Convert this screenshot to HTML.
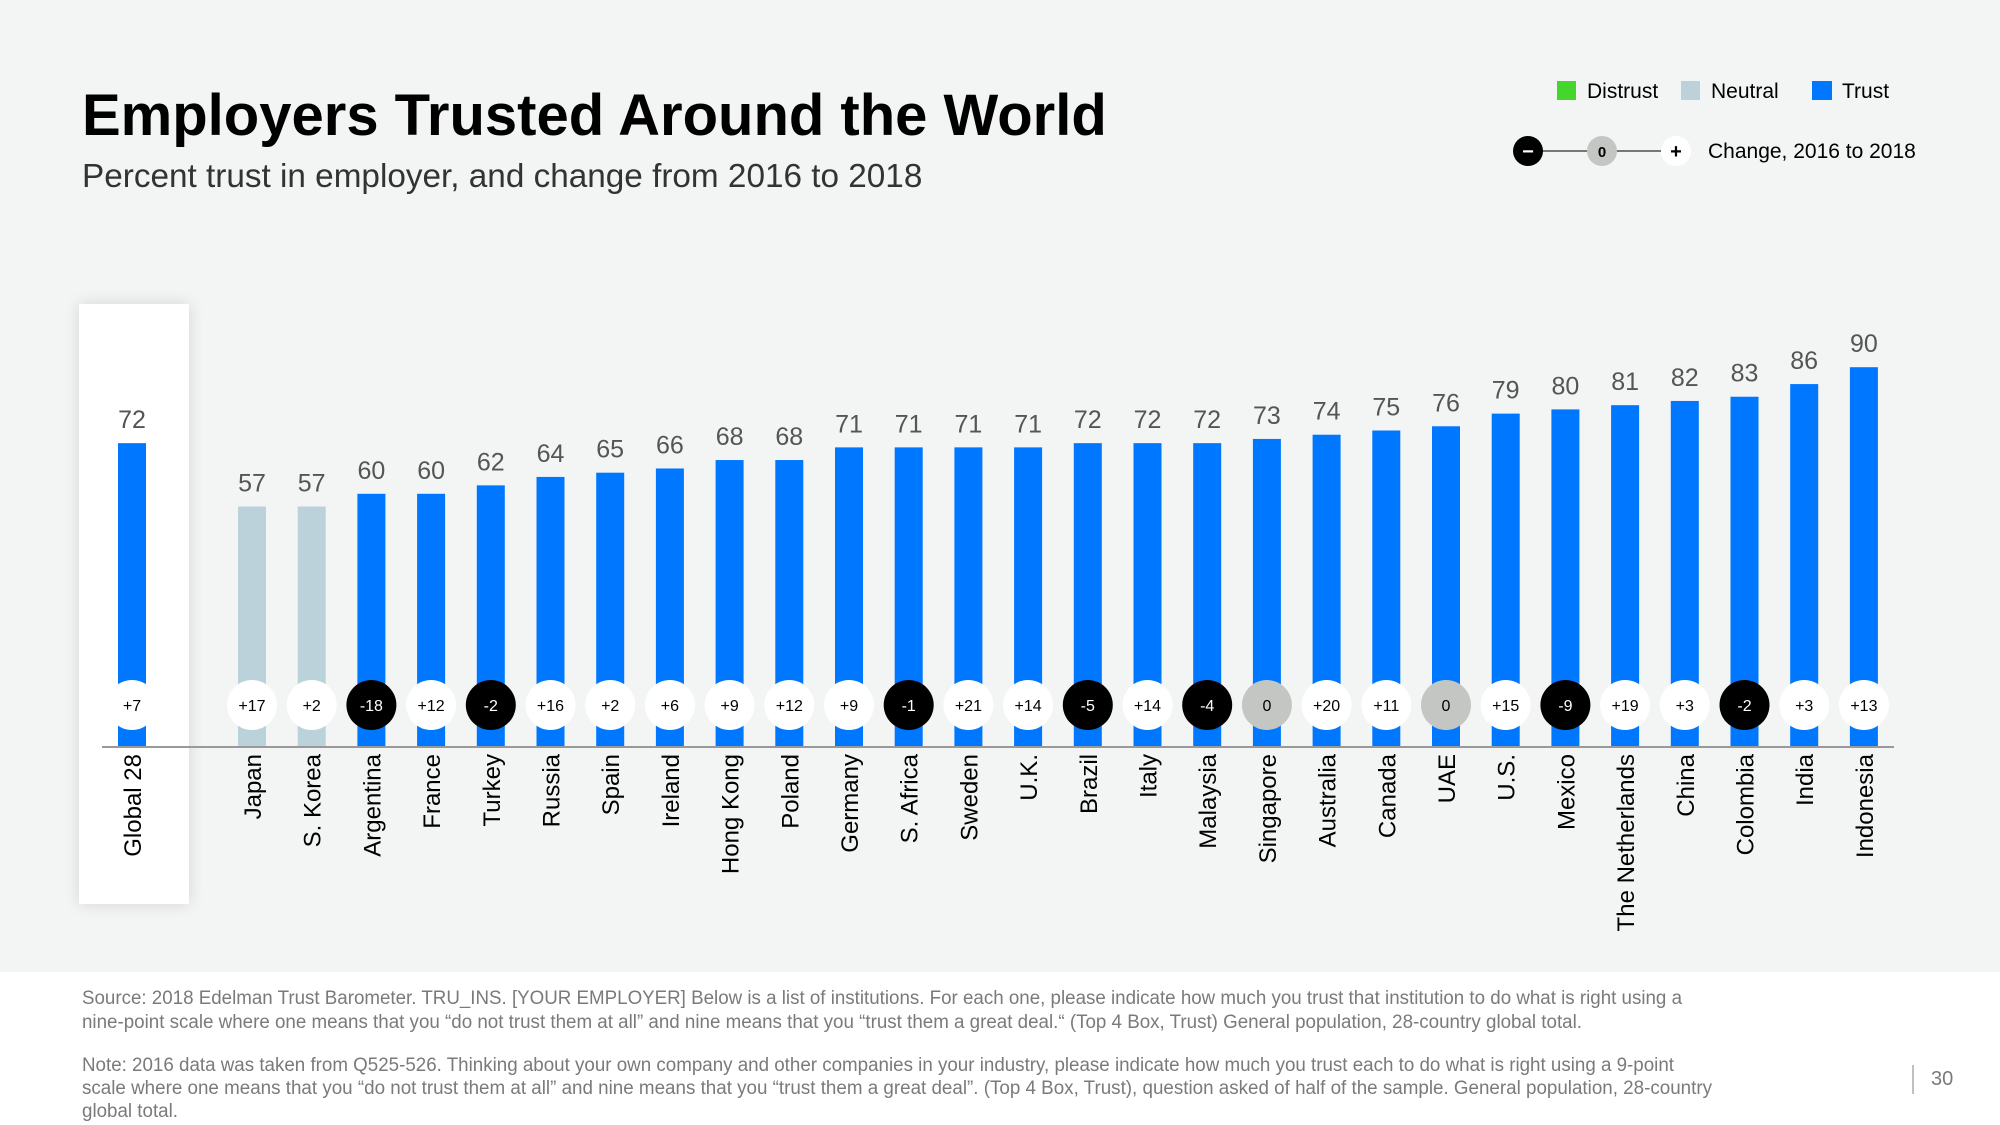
<!DOCTYPE html>
<html><head><meta charset="utf-8"><style>
html,body{margin:0;padding:0;background:#f3f4f4;}
svg{display:block;font-family:"Liberation Sans",sans-serif;}
</style></head><body>
<svg id="chart" width="2000" height="1125" viewBox="0 0 2000 1125" xmlns="http://www.w3.org/2000/svg">
<defs><filter id="sh" x="-30%" y="-10%" width="160%" height="120%"><feGaussianBlur stdDeviation="8"/></filter></defs>
<rect x="0" y="0" width="2000" height="1125" fill="#f3f4f4"/>
<text x="82" y="135" font-size="58" font-weight="bold" fill="#000">Employers Trusted Around the World</text>
<text x="82" y="187" font-size="33.3" fill="#333">Percent trust in employer, and change from 2016 to 2018</text>
<g>
<rect x="1557" y="81" width="19" height="19" fill="#44d62c"/>
<text x="1587" y="98" font-size="21" fill="#000">Distrust</text>
<rect x="1681" y="81" width="19" height="19" fill="#bcd2da"/>
<text x="1711" y="98" font-size="21" fill="#000">Neutral</text>
<rect x="1812" y="81" width="20" height="19" fill="#0077ff"/>
<text x="1842" y="98" font-size="21" fill="#000">Trust</text>
<line x1="1528" y1="151" x2="1676" y2="151" stroke="#777" stroke-width="2"/>
<circle cx="1528" cy="151" r="15" fill="#000"/>
<text x="1528" y="158" font-size="20" fill="#fff" text-anchor="middle" font-weight="bold">−</text>
<circle cx="1602" cy="151" r="15" fill="#c4c6c4"/>
<text x="1602" y="157" font-size="15" font-weight="bold" text-anchor="middle">0</text>
<circle cx="1676" cy="151" r="15" fill="#fff"/>
<text x="1676" y="158" font-size="20" font-weight="bold" text-anchor="middle">+</text>
<text x="1708" y="158" font-size="21" fill="#000">Change, 2016 to 2018</text>
</g>
<rect x="79" y="304" width="110" height="600" fill="#000" opacity="0.12" filter="url(#sh)"/>
<rect x="79" y="304" width="110" height="600" fill="#fff"/>
<g id="plot"></g>
<rect x="0" y="972" width="2000" height="153" fill="#fff"/>
<g font-size="19" fill="#7a7a7a">
<text x="82" y="1004" textLength="1600" lengthAdjust="spacingAndGlyphs">Source: 2018 Edelman Trust Barometer. TRU_INS. [YOUR EMPLOYER] Below is a list of institutions. For each one, please indicate how much you trust that institution to do what is right using a</text>
<text x="82" y="1028" textLength="1500" lengthAdjust="spacingAndGlyphs">nine-point scale where one means that you “do not trust them at all” and nine means that you “trust them a great deal.“ (Top 4 Box, Trust) General population, 28-country global total.</text>
<text x="82" y="1071" textLength="1592" lengthAdjust="spacingAndGlyphs">Note: 2016 data was taken from Q525-526. Thinking about your own company and other companies in your industry, please indicate how much you trust each to do what is right using a 9-point</text>
<text x="82" y="1094" textLength="1630" lengthAdjust="spacingAndGlyphs">scale where one means that you “do not trust them at all” and nine means that you “trust them a great deal”. (Top 4 Box, Trust), question asked of half of the sample. General population, 28-country</text>
<text x="82" y="1117" textLength="96" lengthAdjust="spacingAndGlyphs">global total.</text>
</g>
<line x1="1913" y1="1065" x2="1913" y2="1094" stroke="#aaa" stroke-width="1.5"/>
<text x="1931" y="1085" font-size="20" fill="#7a7a7a">30</text>
</svg>
<script>
const categories=["Global 28","Japan","S. Korea","Argentina","France","Turkey","Russia","Spain","Ireland","Hong Kong","Poland","Germany","S. Africa","Sweden","U.K.","Brazil","Italy","Malaysia","Singapore","Australia","Canada","UAE","U.S.","Mexico","The Netherlands","China","Colombia","India","Indonesia"];
const trustValues=[72,57,57,60,60,62,64,65,66,68,68,71,71,71,71,72,72,72,73,74,75,76,79,80,81,82,83,86,90];
const changeValues=[7,17,2,-18,12,-2,16,2,6,9,12,9,-1,21,14,-5,14,-4,0,20,11,0,15,-9,19,3,-2,3,13];
const neutralCategories=["Japan","S. Korea"];

const NS="http://www.w3.org/2000/svg";
const plot=document.getElementById('plot');
const axisY=747, unit=4.22, barW=28, circleY=705;
function xPos(i){return i===0?132:252+(i-1)*59.7;}
function yPos(v){return axisY-v*unit;}
function mk(tag,attrs){const e=document.createElementNS(NS,tag);for(const k in attrs)e.setAttribute(k,attrs[k]);plot.appendChild(e);return e;}

categories.forEach((c,i)=>{
  const v=trustValues[i], cx=xPos(i);
  const bar=mk('rect',{x:cx-barW/2,y:yPos(v),width:barW,height:axisY-yPos(v),fill:neutralCategories.includes(c)?'#bcd2da':'#0077ff'});
  
  
  const vl=mk('text',{x:cx,y:yPos(v)-15,'font-size':25,fill:'#555','text-anchor':'middle'});
  vl.textContent=v;
  
  
  const ch=changeValues[i];
  const circ=mk('circle',{cx:cx,cy:circleY,r:25,fill:ch>0?'#fff':(ch<0?'#000':'#c4c6c4')});
  
  
  const ct=mk('text',{x:cx,y:circleY+6,'font-size':16,'text-anchor':'middle',fill:ch<0?'#fff':'#000'});
  ct.textContent=ch>0?'+'+ch:String(ch);
  
  
  const cl=mk('text',{x:0,y:0,'font-size':24,fill:'#000','text-anchor':'end',transform:`translate(${cx+9},${axisY+7}) rotate(-90)`});
  cl.textContent=c;
  
  
});
const ax=mk('line',{x1:102,y1:axisY,x2:1894,y2:axisY,stroke:'#999','stroke-width':2});


</script>
</body></html>
